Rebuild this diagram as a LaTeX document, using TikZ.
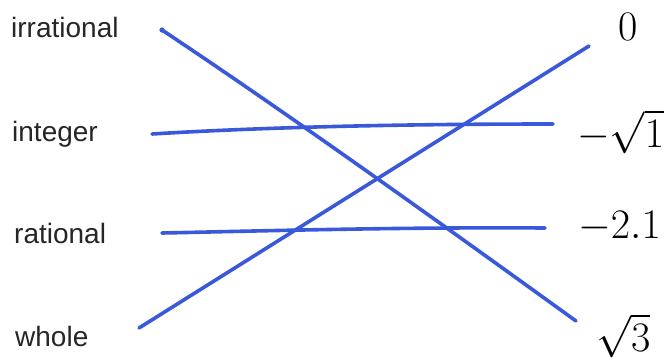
\RequirePackage{fix-cm}
\documentclass[tikz,border=0pt]{standalone}
\usepackage{fontspec}
\newfontfamily\arialfont{Liberation Sans}
\definecolor{pen}{RGB}{58,88,218}
\begin{document}
\begin{tikzpicture}[x=1pt,y=-1pt,
  lab/.style={inner sep=0pt, anchor=base west, font=\arialfont\fontsize{28}{30}\selectfont, text=black!85},
  num/.style={inner sep=0pt, anchor=base west, font=\fontsize{42}{46}\selectfont},
  stroke/.style={draw=pen, line width=3.6pt, line cap=round, line join=round}]
\useasboundingbox[fill=white] (0,0) rectangle (669,360);
% left labels
\node[lab] (irr) at (11,37) {irrational};
\node[lab] (int) at (12,141) {integer};
\node[lab] (rat) at (14,243) {rational};
\node[lab] (who) at (15,346) {whole};
% right labels
\node[num] (zero) at (618,40) {$0$};
\node[num] (msq1) at (577,147) {$-\sqrt{1}$};
\node[num] (m21) at (578,238) {$-2.1$};
\node[num] (sq3) at (596,351) {$\sqrt{3}$};
% line ends
\coordinate (a0) at (162,30);
\coordinate (a1) at (576,321);
\coordinate (b0) at (152,134);
\coordinate (b1) at (553,124);
\coordinate (c0) at (162,233);
\coordinate (c1) at (545,228);
\coordinate (d0) at (139,328);
\coordinate (d1) at (589,46);
% connectors
\draw[stroke] (a0) .. controls (290,115) and (450,230) .. (a1);
\draw[stroke] (b0) .. controls (250,128) and (380,124) .. (b1);
\draw[stroke] (c0) .. controls (260,231) and (400,227) .. (c1);
\draw[stroke] (d0) -- (d1);
\fill[pen] (a0) circle (2.6pt);
\end{tikzpicture}
\end{document}
